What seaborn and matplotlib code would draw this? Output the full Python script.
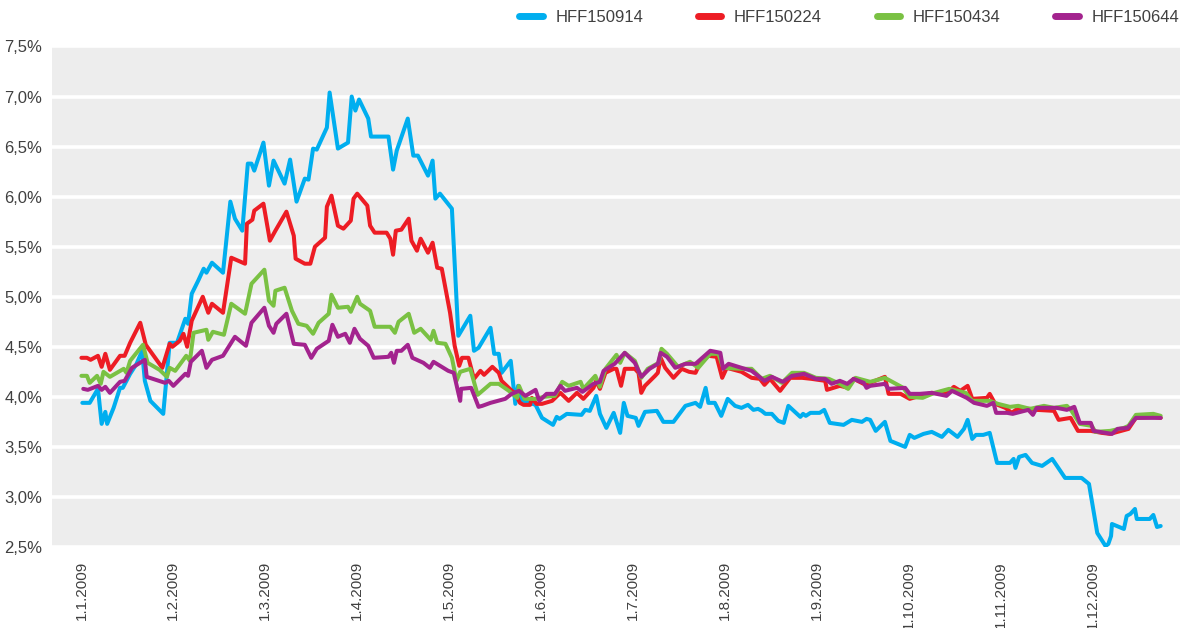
import matplotlib
matplotlib.use("Agg")
import matplotlib.pyplot as plt
import seaborn as sns
import pandas as pd
from matplotlib.ticker import FuncFormatter, MultipleLocator
from matplotlib.lines import Line2D

# ---- data (x in months since 1.1.2009, y in %) ----
series_names = ["HFF150914", "HFF150224", "HFF150434", "HFF150644"]
series_colors = ["#00AEEF", "#ED1C24", "#7AC143", "#A3238E"]
month_labels = ["1.1.2009", "1.2.2009", "1.3.2009", "1.4.2009", "1.5.2009", "1.6.2009",
                "1.7.2009", "1.8.2009", "1.9.2009", "1.10.2009", "1.11.2009", "1.12.2009"]

blue_x = [0.01, 0.09, 0.18, 0.22, 0.26, 0.28, 0.35, 0.42, 0.45, 0.53,
          0.60, 0.66, 0.69, 0.75, 0.89, 0.96, 1.04, 1.13, 1.16, 1.20,
          1.27, 1.33, 1.36, 1.42, 1.54, 1.62, 1.67, 1.75, 1.81, 1.85,
          1.88, 1.98, 2.04, 2.09, 2.21, 2.27, 2.34, 2.43, 2.47, 2.52,
          2.56, 2.67, 2.70, 2.79, 2.90, 2.94, 2.98, 3.02, 3.12, 3.15,
          3.34, 3.39, 3.43, 3.55, 3.61, 3.66, 3.77, 3.82, 3.85, 3.90,
          4.03, 4.10, 4.23, 4.27, 4.32, 4.45, 4.49, 4.54, 4.57, 4.67,
          4.72, 4.75, 4.78, 4.94, 5.01, 5.13, 5.17, 5.20, 5.28, 5.44,
          5.48, 5.53, 5.60, 5.64, 5.71, 5.79, 5.86, 5.90, 5.94, 6.03,
          6.06, 6.13, 6.26, 6.33, 6.44, 6.57, 6.68, 6.73, 6.79, 6.82,
          6.89, 6.96, 7.03, 7.11, 7.18, 7.25, 7.31, 7.36, 7.40, 7.44,
          7.51, 7.58, 7.64, 7.69, 7.76, 7.82, 7.85, 7.88, 7.93, 7.98,
          8.03, 8.08, 8.14, 8.29, 8.38, 8.49, 8.54, 8.58, 8.64, 8.74,
          8.80, 8.96, 9.01, 9.06, 9.16, 9.25, 9.36, 9.43, 9.53, 9.60,
          9.64, 9.69, 9.73, 9.81, 9.88, 9.96, 10.10, 10.14, 10.16, 10.20,
          10.27, 10.34, 10.45, 10.56, 10.70, 10.88, 10.96, 11.05, 11.14, 11.17,
          11.20, 11.21, 11.34, 11.37, 11.41, 11.46, 11.48, 11.62, 11.66, 11.70,
          11.74]
blue_y = [3.94, 3.94, 4.08, 3.73, 3.85, 3.73, 3.89, 4.09, 4.09, 4.23,
          4.33, 4.46, 4.16, 3.96, 3.83, 4.54, 4.54, 4.78, 4.73, 5.03,
          5.16, 5.28, 5.24, 5.34, 5.24, 5.95, 5.78, 5.66, 6.33, 6.33,
          6.26, 6.54, 6.11, 6.36, 6.13, 6.37, 5.95, 6.18, 6.17, 6.48,
          6.47, 6.69, 7.04, 6.48, 6.54, 7.00, 6.86, 6.97, 6.78, 6.60,
          6.60, 6.27, 6.46, 6.78, 6.41, 6.41, 6.21, 6.36, 5.98, 6.03,
          5.88, 4.61, 4.81, 4.46, 4.49, 4.69, 4.43, 4.43, 4.24, 4.36,
          3.93, 4.11, 3.97, 3.92, 3.79, 3.72, 3.80, 3.78, 3.83, 3.82,
          3.87, 3.86, 4.01, 3.83, 3.69, 3.84, 3.64, 3.94, 3.81, 3.79,
          3.71, 3.85, 3.86, 3.75, 3.75, 3.91, 3.94, 3.90, 4.09, 3.94,
          3.94, 3.81, 3.98, 3.91, 3.89, 3.92, 3.87, 3.88, 3.86, 3.83,
          3.83, 3.76, 3.74, 3.91, 3.85, 3.80, 3.83, 3.81, 3.84, 3.84,
          3.84, 3.87, 3.74, 3.72, 3.77, 3.75, 3.78, 3.77, 3.66, 3.75,
          3.56, 3.50, 3.62, 3.59, 3.63, 3.65, 3.60, 3.67, 3.60, 3.68,
          3.77, 3.58, 3.62, 3.62, 3.64, 3.34, 3.34, 3.38, 3.29, 3.40,
          3.42, 3.34, 3.31, 3.38, 3.19, 3.19, 3.13, 2.64, 2.51, 2.53,
          2.61, 2.73, 2.68, 2.81, 2.83, 2.88, 2.78, 2.78, 2.82, 2.70,
          2.71]

red_x = [0.00, 0.06, 0.10, 0.18, 0.22, 0.26, 0.31, 0.42, 0.47, 0.53,
         0.64, 0.70, 0.88, 0.96, 0.99, 1.07, 1.11, 1.15, 1.20, 1.32,
         1.38, 1.42, 1.54, 1.63, 1.78, 1.80, 1.86, 1.88, 1.98, 2.05,
         2.11, 2.23, 2.31, 2.33, 2.43, 2.49, 2.54, 2.65, 2.67, 2.72,
         2.79, 2.85, 2.93, 2.96, 3.00, 3.11, 3.14, 3.19, 3.32, 3.36,
         3.39, 3.42, 3.48, 3.56, 3.59, 3.65, 3.69, 3.77, 3.82, 3.87,
         3.92, 4.01, 4.06, 4.11, 4.14, 4.21, 4.27, 4.34, 4.38, 4.47,
         4.54, 4.57, 4.66, 4.72, 4.77, 4.81, 4.88, 4.90, 4.95, 5.01,
         5.12, 5.21, 5.30, 5.39, 5.46, 5.57, 5.60, 5.64, 5.70, 5.79,
         5.82, 5.87, 5.91, 6.02, 6.06, 6.09, 6.13, 6.24, 6.27, 6.30,
         6.35, 6.44, 6.53, 6.61, 6.68, 6.73, 6.82, 6.91, 6.97, 7.02,
         7.18, 7.29, 7.38, 7.43, 7.49, 7.60, 7.65, 7.71, 7.84, 7.94,
         8.09, 8.11, 8.25, 8.34, 8.40, 8.53, 8.58, 8.74, 8.78, 8.91,
         9.01, 9.12, 9.25, 9.41, 9.49, 9.56, 9.64, 9.69, 9.85, 9.88,
         9.94, 10.05, 10.12, 10.18, 10.32, 10.39, 10.58, 10.63, 10.76, 10.84,
         10.98, 11.10, 11.19, 11.39, 11.47, 11.66, 11.74]
red_y = [4.39, 4.39, 4.37, 4.41, 4.30, 4.43, 4.27, 4.41, 4.41, 4.54,
         4.74, 4.52, 4.29, 4.53, 4.50, 4.56, 4.63, 4.50, 4.76, 5.00,
         4.84, 4.93, 4.84, 5.39, 5.33, 5.73, 5.77, 5.86, 5.93, 5.56,
         5.66, 5.85, 5.61, 5.38, 5.33, 5.33, 5.50, 5.59, 5.90, 6.01,
         5.71, 5.68, 5.76, 5.98, 6.03, 5.91, 5.71, 5.64, 5.64, 5.58,
         5.42, 5.66, 5.67, 5.78, 5.56, 5.46, 5.58, 5.44, 5.54, 5.29,
         5.28, 4.84, 4.51, 4.31, 4.39, 4.39, 4.18, 4.26, 4.22, 4.30,
         4.24, 4.16, 4.08, 4.03, 3.94, 3.92, 3.92, 3.99, 3.93, 3.93,
         3.96, 4.04, 3.96, 4.04, 3.98, 4.09, 4.16, 4.08, 4.24, 4.28,
         4.28, 4.11, 4.28, 4.28, 4.24, 4.04, 4.11, 4.21, 4.24, 4.39,
         4.29, 4.19, 4.28, 4.25, 4.24, 4.34, 4.41, 4.40, 4.19, 4.29,
         4.25, 4.19, 4.18, 4.12, 4.18, 4.06, 4.12, 4.19, 4.19, 4.18,
         4.16, 4.07, 4.11, 4.09, 4.18, 4.12, 4.14, 4.20, 4.03, 4.03,
         3.98, 4.01, 4.04, 4.03, 4.10, 4.06, 4.11, 3.98, 3.99, 4.03,
         3.93, 3.89, 3.84, 3.88, 3.88, 3.87, 3.86, 3.77, 3.79, 3.66,
         3.66, 3.64, 3.63, 3.68, 3.79, 3.80, 3.79]

green_x = [0.00, 0.06, 0.09, 0.17, 0.21, 0.24, 0.31, 0.46, 0.49, 0.53,
           0.67, 0.72, 0.85, 0.93, 0.96, 1.02, 1.14, 1.18, 1.22, 1.36,
           1.38, 1.43, 1.55, 1.63, 1.78, 1.85, 1.99, 2.04, 2.09, 2.11,
           2.21, 2.29, 2.36, 2.45, 2.52, 2.58, 2.69, 2.72, 2.79, 2.90,
           2.93, 3.00, 3.03, 3.14, 3.19, 3.36, 3.41, 3.45, 3.56, 3.62,
           3.69, 3.80, 3.83, 3.87, 3.96, 4.03, 4.08, 4.12, 4.23, 4.31,
           4.45, 4.54, 4.65, 4.74, 4.76, 4.82, 4.94, 5.03, 5.15, 5.23,
           5.30, 5.43, 5.46, 5.59, 5.64, 5.70, 5.82, 5.86, 5.91, 6.02,
           6.09, 6.16, 6.28, 6.31, 6.37, 6.49, 6.62, 6.71, 6.84, 6.93,
           6.98, 7.18, 7.29, 7.40, 7.49, 7.62, 7.73, 7.86, 7.99, 8.13,
           8.25, 8.34, 8.42, 8.58, 8.74, 8.94, 9.01, 9.15, 9.28, 9.44,
           9.62, 9.69, 9.88, 9.97, 10.10, 10.19, 10.32, 10.47, 10.58, 10.72,
           10.77, 10.86, 10.99, 11.03, 11.19, 11.34, 11.39, 11.47, 11.66, 11.74]
green_y = [4.21, 4.21, 4.14, 4.21, 4.13, 4.25, 4.20, 4.28, 4.24, 4.36,
           4.52, 4.34, 4.27, 4.20, 4.29, 4.26, 4.41, 4.36, 4.64, 4.67,
           4.57, 4.65, 4.62, 4.93, 4.83, 5.13, 5.27, 4.96, 4.91, 5.06,
           5.09, 4.86, 4.73, 4.71, 4.63, 4.74, 4.83, 5.02, 4.89, 4.90,
           4.85, 5.00, 4.93, 4.86, 4.70, 4.70, 4.64, 4.75, 4.83, 4.64,
           4.68, 4.57, 4.66, 4.54, 4.53, 4.39, 4.16, 4.25, 4.28, 4.02,
           4.13, 4.13, 4.06, 3.99, 4.11, 3.98, 3.98, 4.00, 4.01, 4.15,
           4.11, 4.15, 4.08, 4.21, 4.10, 4.28, 4.42, 4.34, 4.44, 4.36,
           4.19, 4.28, 4.34, 4.48, 4.43, 4.30, 4.35, 4.29, 4.43, 4.43,
           4.29, 4.28, 4.28, 4.18, 4.21, 4.14, 4.24, 4.24, 4.19, 4.18,
           4.13, 4.08, 4.19, 4.15, 4.19, 4.09, 4.00, 3.99, 4.04, 4.08,
           4.04, 3.96, 3.96, 3.93, 3.90, 3.91, 3.88, 3.91, 3.89, 3.91,
           3.86, 3.73, 3.71, 3.65, 3.66, 3.69, 3.71, 3.82, 3.83, 3.81]

purple_x = [0.02, 0.07, 0.18, 0.22, 0.26, 0.31, 0.42, 0.47, 0.55, 0.69,
            0.71, 0.91, 0.95, 1.00, 1.13, 1.16, 1.19, 1.31, 1.36, 1.42,
            1.54, 1.67, 1.79, 1.85, 1.99, 2.04, 2.09, 2.12, 2.23, 2.31,
            2.43, 2.50, 2.56, 2.69, 2.73, 2.79, 2.87, 2.92, 2.97, 3.03,
            3.12, 3.18, 3.34, 3.37, 3.40, 3.43, 3.48, 3.55, 3.60, 3.72,
            3.79, 3.83, 3.99, 4.05, 4.12, 4.13, 4.24, 4.32, 4.36, 4.45,
            4.61, 4.68, 4.76, 4.83, 4.94, 4.98, 5.06, 5.15, 5.21, 5.26,
            5.39, 5.45, 5.57, 5.64, 5.68, 5.80, 5.91, 6.02, 6.09, 6.18,
            6.27, 6.30, 6.37, 6.46, 6.57, 6.68, 6.84, 6.95, 6.98, 7.04,
            7.18, 7.29, 7.43, 7.51, 7.63, 7.73, 7.86, 7.99, 8.09, 8.16,
            8.25, 8.33, 8.40, 8.51, 8.54, 8.58, 8.74, 8.78, 8.96, 9.01,
            9.12, 9.25, 9.41, 9.47, 9.63, 9.71, 9.85, 9.92, 9.95, 10.07,
            10.13, 10.30, 10.35, 10.39, 10.61, 10.72, 10.80, 10.86, 10.98, 11.01,
            11.21, 11.27, 11.38, 11.47, 11.66, 11.74]
purple_y = [4.08, 4.07, 4.11, 4.07, 4.10, 4.04, 4.15, 4.16, 4.29, 4.37,
            4.20, 4.14, 4.16, 4.11, 4.23, 4.21, 4.35, 4.46, 4.29, 4.37,
            4.41, 4.60, 4.51, 4.74, 4.89, 4.71, 4.64, 4.73, 4.83, 4.53,
            4.52, 4.39, 4.48, 4.56, 4.72, 4.60, 4.63, 4.54, 4.68, 4.58,
            4.51, 4.39, 4.40, 4.44, 4.34, 4.46, 4.46, 4.52, 4.39, 4.34,
            4.29, 4.35, 4.26, 4.24, 3.96, 4.08, 4.09, 3.90, 3.91, 3.94,
            3.98, 4.03, 4.06, 4.01, 4.07, 3.96, 4.03, 4.03, 4.11, 4.06,
            4.09, 4.05, 4.13, 4.15, 4.26, 4.33, 4.44, 4.34, 4.20, 4.28,
            4.33, 4.44, 4.40, 4.29, 4.33, 4.33, 4.46, 4.44, 4.28, 4.33,
            4.29, 4.26, 4.16, 4.20, 4.15, 4.21, 4.23, 4.18, 4.18, 4.13,
            4.16, 4.13, 4.18, 4.14, 4.09, 4.11, 4.13, 4.08, 4.09, 4.03,
            4.03, 4.04, 4.01, 4.06, 3.99, 3.94, 3.91, 3.94, 3.84, 3.84,
            3.83, 3.87, 3.82, 3.89, 3.89, 3.87, 3.90, 3.74, 3.74, 3.66,
            3.63, 3.68, 3.69, 3.79, 3.79, 3.79]

# ---- long-form table ----
frames = []
for name, xs, ys in zip(series_names,
                        [blue_x, red_x, green_x, purple_x],
                        [blue_y, red_y, green_y, purple_y]):
    frames.append(pd.DataFrame({"t": xs, "rate": ys, "series": name}))
df = pd.concat(frames, ignore_index=True)

sns.set_theme(style="white")
plt.rcParams["font.family"] = ["Liberation Sans", "DejaVu Sans"]

text_color = "#404040"
fig = plt.figure(figsize=(11.89, 6.28), dpi=100)
ax = fig.add_axes([52 / 1189, 1 - 547 / 628, (1180 - 52) / 1189, (547 - 46.5) / 628])
ax.set_facecolor("#EDEDED")

palette = dict(zip(series_names, series_colors))
sns.lineplot(data=df, x="t", y="rate", hue="series", hue_order=series_names,
             palette=palette, estimator=None, sort=False, linewidth=2.9,
             ax=ax, legend=False, zorder=3)

ax.set_xlim(-0.32, 11.95)
ax.set_ylim(2.5, 7.5)
ax.yaxis.set_major_locator(MultipleLocator(0.5))
ax.yaxis.set_major_formatter(FuncFormatter(lambda v, _: f"{v:.1f}%".replace(".", ",")))
ax.grid(axis="y", color="white", linewidth=2.6, zorder=1)
ax.grid(axis="x", visible=False)
ax.set_axisbelow(True)
for s in ax.spines.values():
    s.set_visible(False)

ax.set_xticks(range(len(month_labels)))
ax.set_xticklabels(month_labels, rotation=90, va="top", ha="center")
ax.tick_params(axis="x", direction="in", length=7, width=3, color="white",
               pad=10, labelsize=11, labelcolor=text_color)
ax.tick_params(axis="y", length=0, pad=7, labelsize=12, labelcolor=text_color)
ax.set_xlabel("")
ax.set_ylabel("")

handles = [Line2D([0], [0], color=c, linewidth=5, solid_capstyle="round") for c in series_colors]
fig.legend(handles, series_names, loc="center right", bbox_to_anchor=(1179 / 1189, 1 - 17 / 628),
           ncol=4, frameon=False, fontsize=12, handlelength=1.4, handletextpad=0.75,
           columnspacing=3.3, labelcolor=text_color, borderpad=0, borderaxespad=0)

fig.savefig("out.png", dpi=100)
